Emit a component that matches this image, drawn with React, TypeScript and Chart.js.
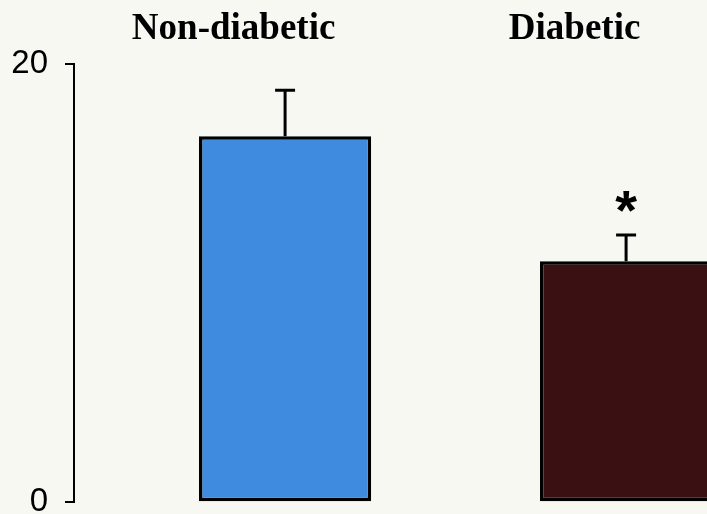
import React, { useEffect, useRef } from "react";
import { Chart, registerables } from "chart.js";

Chart.register(...registerables);

// Group names, mean values, standard errors and significance marks
const categories = ["Non-diabetic", "Diabetic"];
const means = [16.7, 11.0];
const sems = [2.1, 1.2];
const significance = ["", "*"];
const barColors = ["#3f8be0", "#3b1013"];
const yTicks = [0, 20];
const groupPositions = categories.map((_, i) => i + 1);

const errorBarsAndLabels = {
  id: "errorBarsAndLabels",
  afterDatasetsDraw(chart: any) {
    const ctx = chart.ctx;
    const yScale = chart.scales.y;
    const xScale = chart.scales.x;
    const meta = chart.getDatasetMeta(0);
    ctx.save();
    meta.data.forEach((bar: any, i: number) => {
      const x = bar.x;
      const base = yScale.getPixelForValue(means[i]);
      const top = yScale.getPixelForValue(means[i] + sems[i]);
      ctx.strokeStyle = "#000";
      ctx.lineWidth = 3;
      ctx.beginPath();
      ctx.moveTo(x, base);
      ctx.lineTo(x, top);
      ctx.moveTo(x - 10, top);
      ctx.lineTo(x + 10, top);
      ctx.stroke();
      if (significance[i]) {
        ctx.fillStyle = "#000";
        ctx.font = 'bold 56px "Liberation Sans"';
        ctx.textAlign = "center";
        ctx.textBaseline = "alphabetic";
        ctx.fillText(significance[i], x, top - 6);
      }
      // group heading above each bar
      ctx.fillStyle = "#000";
      ctx.font = 'bold 37px "Liberation Serif"';
      ctx.textAlign = "center";
      ctx.textBaseline = "alphabetic";
      ctx.fillText(categories[i], xScale.getPixelForValue(groupPositions[i] - 0.151), chart.chartArea.top - 25);
    });
    ctx.restore();
  },
};

export default function App() {
  const canvasRef = useRef<HTMLCanvasElement | null>(null);

  useEffect(() => {
    if (!canvasRef.current) return;
    const chart = new Chart(canvasRef.current, {
      type: "bar",
      data: {
        datasets: [
          {
            data: means.map((m, i) => ({ x: groupPositions[i], y: m })),
            backgroundColor: barColors,
            borderColor: "#000",
            borderWidth: 3.5,
            borderSkipped: false,
            barPercentage: 0.505,
            categoryPercentage: 1,
          },
        ],
      },
      options: {
        responsive: false,
        animation: false,
        devicePixelRatio: 1,
        layout: { padding: { top: 64, bottom: 0, left: 0, right: 0 } },
        plugins: { legend: { display: false }, tooltip: { enabled: false } },
        scales: {
          x: {
            type: "linear",
            min: 0.381,
            max: 2.51,
            offset: false,
            display: false,
            afterBuildTicks(scale: any) {
              scale.ticks = groupPositions.map((v) => ({ value: v }));
            },
          },
          y: {
            min: 0,
            max: 20,
            afterFit(scale: any) {
              scale.width = 74;
            },
            afterBuildTicks(scale: any) {
              scale.ticks = yTicks.map((v) => ({ value: v }));
            },
            ticks: {
              color: "#000",
              padding: 17,
              font: { family: '"Liberation Sans"', size: 33 },
            },
            grid: {
              drawOnChartArea: false,
              drawTicks: true,
              tickLength: 9,
              color: "#000",
              lineWidth: 2,
            },
            border: { display: true, color: "#000", width: 2 },
          },
        },
      },
      plugins: [errorBarsAndLabels],
    });
    return () => chart.destroy();
  }, []);

  return (
    <div
      style={{
        position: "absolute",
        left: 0,
        top: 0,
        width: 707,
        height: 514,
        overflow: "hidden",
        background: "#f8f8f3",
      }}
    >
      <canvas ref={canvasRef} width={800} height={539} />
    </div>
  );
}
